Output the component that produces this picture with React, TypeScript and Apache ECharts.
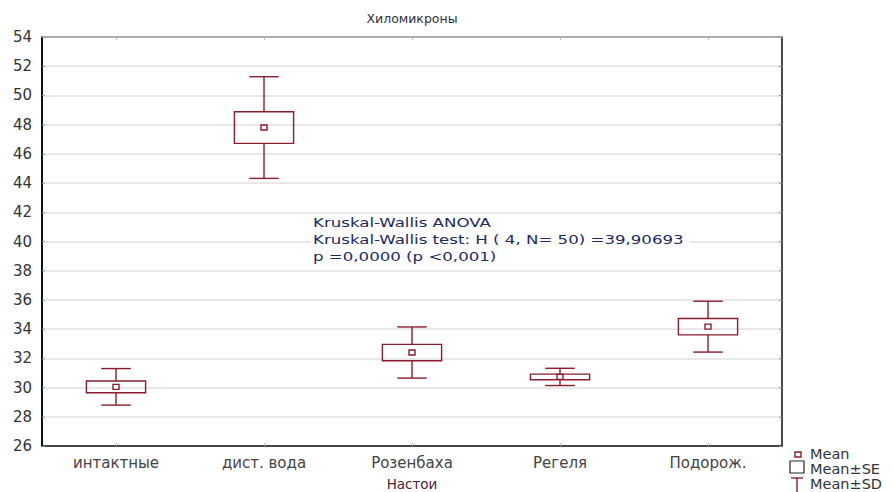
import React, { useEffect, useRef } from "react";
import * as echarts from "echarts";

const title = "Хиломикроны";
const xAxisName = "Настои";
const categories = ["интактные", "дист. вода", "Розенбаха", "Регеля", "Подорож."];
const means = [30.05, 47.8, 32.4, 30.73, 34.17];
const seValues = [0.4, 1.08, 0.56, 0.19, 0.56];
const sdValues = [1.25, 3.48, 1.75, 0.59, 1.74];
const yMin = 26;
const yMax = 54;
const yStep = 2;
const annotationLines = [
  "Kruskal-Wallis ANOVA",
  "Kruskal-Wallis test: H ( 4, N= 50) =39,90693",
  "p =0,0000 (p <0,001)",
];
const legendLabels = ["Mean", "Mean±SE", "Mean±SD"];

const RED = "#8a1c2e";
const FONT = "DejaVu Sans";

export default function App() {
  const ref = useRef<HTMLDivElement>(null);

  useEffect(() => {
    if (!ref.current) return;
    const chart = echarts.init(ref.current, null, { renderer: "svg" });

    const data = means.map((m, i) => [i, m, seValues[i], sdValues[i]]);

    const renderItem = (params: any, api: any) => {
      const idx = api.value(0);
      const m = api.value(1);
      const se = api.value(2);
      const sd = api.value(3);
      const c = api.coord([idx, m]);
      const band = api.size([1, 0])[0];
      const x = c[0];
      const boxHalf = band * 0.2;
      const capHalf = band * 0.1;
      const ySdTop = api.coord([idx, m + sd])[1];
      const ySdBot = api.coord([idx, m - sd])[1];
      const ySeTop = api.coord([idx, m + se])[1];
      const ySeBot = api.coord([idx, m - se])[1];
      const lineStyle = { stroke: RED, lineWidth: 1.4, fill: null };
      return {
        type: "group",
        children: [
          { type: "line", shape: { x1: x, y1: ySdTop, x2: x, y2: ySeTop }, style: lineStyle },
          { type: "line", shape: { x1: x, y1: ySeBot, x2: x, y2: ySdBot }, style: lineStyle },
          { type: "line", shape: { x1: x - capHalf, y1: ySdTop, x2: x + capHalf, y2: ySdTop }, style: lineStyle },
          { type: "line", shape: { x1: x - capHalf, y1: ySdBot, x2: x + capHalf, y2: ySdBot }, style: lineStyle },
          {
            type: "rect",
            shape: { x: x - boxHalf, y: ySeTop, width: boxHalf * 2, height: ySeBot - ySeTop },
            style: { stroke: RED, lineWidth: 1.4, fill: "rgba(255,255,255,0)" },
          },
          {
            type: "rect",
            shape: { x: c[0] - 3, y: c[1] - 2.5, width: 6, height: 5 },
            style: { stroke: RED, lineWidth: 1.4, fill: "#fff" },
          },
        ],
      };
    };

    const option: any = {
      animation: false,
      backgroundColor: "#fff",
      grid: { left: 42, right: 112, top: 37, bottom: 46, containLabel: false, outerBoundsMode: "none" },
      xAxis: [
        {
          type: "category",
          data: categories,
          position: "bottom",
          name: xAxisName,
          nameLocation: "middle",
          nameGap: 31,
          nameTextStyle: { fontFamily: FONT, fontSize: 13.5, color: "#4a2030" },
          axisLine: { show: true, lineStyle: { color: "#111", width: 1.5 } },
          axisTick: { show: true, inside: true, alignWithLabel: true, length: 3, lineStyle: { color: "#bbb" } },
          axisLabel: { fontFamily: FONT, fontSize: 15, color: "#444", margin: 9 },
          splitLine: { show: false },
        },
        {
          type: "category",
          data: categories,
          position: "top",
          axisLine: { show: true, lineStyle: { color: "#999", width: 1.5 } },
          axisTick: { show: true, inside: true, alignWithLabel: true, length: 3, lineStyle: { color: "#bbb" } },
          axisLabel: { show: false },
          splitLine: { show: false },
        },
      ],
      yAxis: [
        {
          type: "value",
          min: yMin,
          max: yMax,
          interval: yStep,
          position: "left",
          axisLine: { show: true, lineStyle: { color: "#111", width: 2 } },
          axisTick: { show: true, inside: true, length: 3, lineStyle: { color: "#999" } },
          axisLabel: { fontFamily: FONT, fontSize: 15, color: "#333", margin: 10 },
          splitLine: { show: true, lineStyle: { color: "#e0e0e0", width: 1.5 } },
        },
        {
          type: "value",
          min: yMin,
          max: yMax,
          interval: yStep,
          position: "right",
          axisLine: { show: true, lineStyle: { color: "#111", width: 1.5 } },
          axisTick: { show: true, inside: true, length: 3, lineStyle: { color: "#999" } },
          axisLabel: { show: false },
          splitLine: { show: false },
        },
      ],
      series: [
        {
          type: "custom",
          renderItem,
          data,
          xAxisIndex: 0,
          yAxisIndex: 0,
          encode: { x: 0, y: [1] },
          clip: false,
          z: 5,
        },
      ],
      graphic: [
        {
          type: "text",
          x: 412,
          y: 18,
          style: {
            text: title,
            fontFamily: FONT,
            fontSize: 12.5,
            fill: "#333",
            textAlign: "center",
            textVerticalAlign: "middle",
          },
        },
        {
          type: "rect",
          z: 20,
          shape: { x: 310, y: 232, width: 380, height: 14 },
          style: { fill: "#fff" },
        },
        {
          type: "group",
          z: 21,
          x: 313,
          y: 216,
          scaleX: 1.33,
          children: annotationLines.map((t, i) => ({
            type: "text",
            z: 21,
            x: 0,
            y: i * 17,
            style: {
              text: t,
              fontFamily: FONT,
              fontSize: 12.5,
              fill: "#1c2a62",
              textAlign: "left",
              textVerticalAlign: "top",
            },
          })),
        },
        {
          type: "group",
          x: 788,
          y: 446,
          children: [
            { type: "rect", shape: { x: 7, y: 6, width: 6, height: 5 }, style: { stroke: RED, lineWidth: 1.4, fill: "#fff" } },
            { type: "rect", shape: { x: 2, y: 15, width: 14, height: 12 }, style: { stroke: "#222", lineWidth: 1.2, fill: "#fff" } },
            { type: "line", shape: { x1: 3, y1: 32, x2: 15, y2: 32 }, style: { stroke: RED, lineWidth: 1.4 } },
            { type: "line", shape: { x1: 9, y1: 32, x2: 9, y2: 46 }, style: { stroke: RED, lineWidth: 1.4 } },
            ...legendLabels.map((t, i) => ({
              type: "text",
              x: 22,
              y: 8 + i * 15,
              style: {
                text: t,
                fontFamily: FONT,
                fontSize: 14.5,
                fill: "#333",
                textAlign: "left",
                textVerticalAlign: "middle",
              },
            })),
          ],
        },
      ],
    };

    chart.setOption(option);
    return () => chart.dispose();
  }, []);

  return <div ref={ref} style={{ width: 894, height: 492, position: "absolute", left: 0, top: 0 }} />;
}
